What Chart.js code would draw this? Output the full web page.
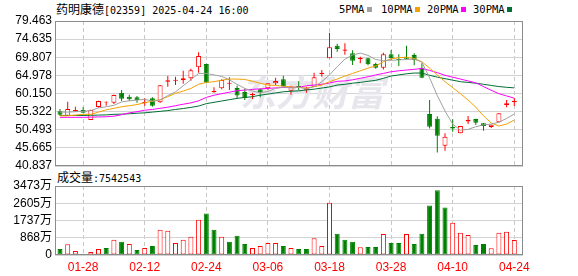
<!DOCTYPE html>
<html><head><meta charset="utf-8">
<script src="https://cdn.jsdelivr.net/npm/chart.js@4.4.0/dist/chart.umd.min.js"></script>
<style>
html,body{margin:0;padding:0;background:#fff;width:578px;height:276px;overflow:hidden;position:relative;}
.box{position:absolute;left:0;}
.t{position:absolute;white-space:nowrap;color:#000;}
.cjk{font-family:"Noto Sans CJK SC";font-size:12px;}
.mono{font-family:"DejaVu Sans Mono";font-size:10px;}
.sq{position:absolute;width:5px;height:5px;}
</style></head><body>
<div class="t" style="left:56px;top:0px;line-height:18px;"><span class="cjk">药明康德</span><span class="mono">[02359] 2025-04-24 16:00</span></div>
<div class="t mono" style="left:339px;top:0px;line-height:18px;font-size:10.5px;">5PMA</div><div class="sq" style="left:367px;top:7px;background:#a0a0a0"></div>
<div class="t mono" style="left:381px;top:0px;line-height:18px;font-size:10.5px;">10PMA</div><div class="sq" style="left:415px;top:7px;background:#f5a000"></div>
<div class="t mono" style="left:427px;top:0px;line-height:18px;font-size:10.5px;">20PMA</div><div class="sq" style="left:461px;top:7px;background:#ff00ff"></div>
<div class="t mono" style="left:473px;top:0px;line-height:18px;font-size:10.5px;">30PMA</div><div class="sq" style="left:507px;top:7px;background:#006f35"></div>
<div class="t" style="left:57px;top:168px;line-height:18px;"><span class="cjk">成交量</span><span class="mono">:7542543</span></div>
<div class="box" style="top:0;width:578px;height:170px;"><canvas id="pc" width="578" height="170"></canvas></div>
<div class="box" style="top:170px;width:578px;height:106px;"><canvas id="vc" width="578" height="106"></canvas></div>
<script>
const dates = ['01-23','01-24','01-27','01-28','02-03','02-04','02-05','02-06','02-07','02-10','02-11','02-12','02-13','02-14','02-17','02-18','02-19','02-20','02-21','02-24','02-25','02-26','02-27','02-28','03-03','03-04','03-05','03-06','03-07','03-10','03-11','03-12','03-13','03-14','03-17','03-18','03-19','03-20','03-21','03-24','03-25','03-26','03-27','03-28','03-31','04-01','04-02','04-03','04-07','04-08','04-09','04-10','04-11','04-14','04-15','04-16','04-17','04-22','04-23','04-24'];
const labelDates = ['01-28','02-12','02-24','03-06','03-18','03-28','04-10','04-24'];
const openP  = [55.40,54.24,55.50,55.75,53.09,56.55,57.75,57.70,60.36,59.30,59.14,57.55,58.87,57.80,63.30,63.56,63.66,64.20,67.13,68.01,60.45,61.53,62.76,61.60,60.55,59.67,61.27,61.53,62.87,63.93,60.90,62.15,61.17,61.96,65.35,69.53,72.88,71.55,70.86,69.30,69.53,68.01,67.02,70.59,69.35,69.95,70.40,67.02,54.69,53.40,46.24,51.30,49.55,52.70,53.36,52.21,51.23,52.48,57.09,57.80];
const highP  = [56.02,57.97,56.63,56.47,55.80,58.20,58.00,59.80,61.08,59.83,59.49,58.87,59.14,62.40,64.81,64.63,66.23,66.76,71.13,68.10,61.80,63.93,64.47,62.30,61.43,60.36,61.43,62.90,64.37,64.90,62.23,63.40,61.96,65.69,66.41,76.35,73.43,73.52,71.65,69.95,69.70,68.35,71.02,71.74,70.59,72.88,70.86,68.20,58.42,54.06,49.55,53.28,51.50,54.16,53.40,52.30,51.90,54.90,58.42,58.87];
const lowP   = [54.16,54.20,55.30,55.00,53.09,56.37,56.90,57.36,58.15,58.15,57.70,56.90,56.63,57.60,61.96,62.40,62.76,63.56,65.69,62.87,60.36,61.27,61.08,58.87,58.42,58.69,59.14,61.08,62.40,61.96,59.83,61.08,60.36,61.96,64.63,69.53,71.29,70.50,67.74,68.20,67.70,66.76,66.55,69.07,67.50,69.30,67.70,64.20,50.84,44.45,44.91,49.97,49.55,52.03,51.76,50.25,50.96,52.45,56.47,56.82];
const closeP = [54.50,56.02,55.75,55.04,55.75,58.15,57.95,59.75,58.77,58.60,58.42,57.89,56.90,62.33,63.66,63.82,64.20,66.33,70.14,63.03,60.80,63.75,63.03,59.65,58.95,60.02,60.47,62.87,63.48,62.15,61.96,61.62,61.53,64.47,65.69,72.46,72.00,71.90,68.89,69.70,67.93,67.02,70.59,69.53,69.10,69.40,69.07,64.37,51.31,48.91,48.60,50.85,51.49,53.15,52.37,51.49,51.85,54.88,57.54,58.24];
const ma5  = [55.2,55.2,55.3,55.4,55.6,56.3,56.6,57.0,57.9,58.2,58.4,58.6,58.1,58.4,59.6,60.6,62.2,63.8,65.5,65.5,65.1,64.7,63.8,62.6,61.5,60.8,60.3,60.7,61.5,61.9,61.6,61.8,61.4,62.0,63.3,65.1,67.3,69.3,70.4,70.9,70.3,69.2,68.9,69.0,69.1,69.2,69.3,68.5,64.3,59.6,55.5,52.0,50.4,50.6,51.3,51.8,52.0,52.5,53.5,54.7];
const ma10 = [54.2,54.2,54.4,54.6,54.6,55.2,55.8,56.2,56.6,56.9,57.2,57.7,58.1,58.5,59.3,60.2,60.8,61.5,62.6,63.1,63.3,63.7,64.0,64.0,63.9,63.4,62.9,62.4,62.3,62.1,61.9,61.8,61.6,61.95,62.4,63.3,64.0,64.8,65.5,66.2,66.9,67.5,68.6,69.4,69.7,69.8,69.5,68.6,66.9,65.1,63.3,61.7,60.1,58.4,56.5,54.2,52.3,51.5,52.0,53.1];
const ma20 = [53.8,53.8,53.8,53.8,53.85,53.9,53.95,54.1,54.5,55.0,55.3,55.7,55.9,56.2,56.5,56.9,57.3,57.65,58.2,59.1,59.7,60.1,60.5,60.9,61.05,61.25,61.4,61.5,61.65,61.75,61.8,61.8,62.2,62.4,62.6,62.95,63.4,63.5,63.8,64.2,64.6,65.1,65.5,65.95,66.2,66.4,66.6,66.8,66.3,65.7,65.0,64.5,64.0,63.5,63.0,62.0,61.0,60.1,59.5,58.9];
const ma30 = [54.3,54.3,54.3,54.3,54.35,54.4,54.45,54.6,54.65,54.75,54.9,55.0,55.2,55.4,55.6,55.9,56.15,56.45,56.8,57.45,57.8,58.15,58.5,58.85,59.1,59.3,59.7,60.0,60.3,60.6,60.75,60.85,61.1,61.3,61.6,61.9,62.4,62.6,62.9,63.1,63.4,63.65,64.2,64.8,65.1,65.4,65.6,65.6,65.0,64.5,64.1,63.7,63.3,63.1,62.9,62.6,62.3,62.0,61.8,61.65];
const volume = [305,544,203,60,153,305,356,763,661,559,254,356,458,1271,1220,610,763,915,1780,2085,1271,915,661,966,559,356,458,610,610,458,356,305,305,849,458,2629,1068,763,661,392,407,407,1052,610,610,1052,559,1068,2492,3254,2390,1625,1119,1010,509,559,345,1125,1170,754.25];
const volUp  = [0,1,1,0,1,1,0,1,0,1,0,1,0,1,1,1,1,1,1,0,0,1,0,0,0,1,1,1,1,0,1,0,0,1,1,1,0,0,0,1,0,0,1,0,0,1,0,0,0,0,0,1,1,1,0,0,1,1,1,1];
const priceTicks = [40.837,45.665,50.493,55.322,60.150,64.978,69.807,74.635,79.463];
const volTicks = [0,868,1737,2605,3473];

const RED='#ff0000', GREEN='#008000', GRID='#d3d3d3', FRAME='#8c8c8c', DASHC='#c8c8c8';
const labelIdx = labelDates.map(d => dates.indexOf(d));
const XMIN=-0.65, XMAX=60.13;

const framePlugin = {id:'frame', afterDraw(chart){const a=chart.chartArea,c=chart.ctx;c.save();c.strokeStyle=FRAME;c.lineWidth=1;c.strokeRect(a.left+0.5,a.top+0.5,a.right-a.left-1,a.bottom-a.top-1);c.restore();}};
const wmPlugin = {id:'wm', beforeDatasetsDraw(chart){const c=chart.ctx;c.save();c.fillStyle='#e6e6ec';c.font='italic bold 36px "Noto Sans CJK SC"';c.textBaseline='middle';c.fillText('东方财富',240,92);c.restore();}};

function xScale(showLabels){
  return {type:'linear',min:XMIN,max:XMAX,offset:false,
    afterBuildTicks(s){s.ticks=labelIdx.map(v=>({value:v}));},
    afterFit(s){s.height=showLabels?21:0;},
    grid:{color:DASHC,drawTicks:false,lineWidth:1,offset:false},
    border:{display:false,dash:[4,3]},
    ticks:{display:showLabels,autoSkip:false,maxRotation:0,padding:5,color:RED,font:{family:'Liberation Sans',size:12},callback:v=>dates[v]}};
}

const upArr = closeP.map((c,i)=>c>=openP[i]);
new Chart(document.getElementById('pc'),{
  type:'bar',
  data:{datasets:[
    {type:'line',data:ma5.map((v,i)=>({x:i,y:v})),borderColor:'#a0a0a0',borderWidth:1,pointRadius:0,tension:0,order:0},
    {type:'line',data:ma10.map((v,i)=>({x:i,y:v})),borderColor:'#f5a000',borderWidth:1,pointRadius:0,tension:0,order:0},
    {type:'line',data:ma20.map((v,i)=>({x:i,y:v})),borderColor:'#ff00ff',borderWidth:1,pointRadius:0,tension:0,order:0},
    {type:'line',data:ma30.map((v,i)=>({x:i,y:v})),borderColor:'#006f35',borderWidth:1,pointRadius:0,tension:0,order:0},
    {data:openP.map((o,i)=>({x:i,y:[o,closeP[i]]})),backgroundColor:upArr.map(u=>u?'#ffffff':GREEN),borderColor:upArr.map(u=>u?RED:GREEN),borderWidth:1,borderSkipped:false,barThickness:5,grouped:false,order:1,inflateAmount:0},
    {data:lowP.map((l,i)=>({x:i,y:[l,highP[i]]})),backgroundColor:upArr.map(u=>u?RED:GREEN),borderWidth:0,barThickness:1,grouped:false,order:2,inflateAmount:0}
  ]},
  options:{responsive:false,animation:false,events:[],
    layout:{padding:{left:0,right:55,top:21,bottom:4}},
    plugins:{legend:{display:false},tooltip:{enabled:false}},
    scales:{
      x:xScale(false),
      y:{min:priceTicks[0],max:priceTicks[priceTicks.length-1],
        afterBuildTicks(s){s.ticks=priceTicks.map(v=>({value:v}));},
        afterFit(s){s.width=55;s.paddingTop=0;s.paddingBottom=0;},
        grid:{color:GRID,drawTicks:false},border:{display:false},
        ticks:{padding:3,autoSkip:false,color:'#000',font:{family:'Liberation Sans',size:12},callback:v=>v.toFixed(3)}}
    }},
  plugins:[framePlugin,wmPlugin]
});

new Chart(document.getElementById('vc'),{
  type:'bar',
  data:{datasets:[
    {data:volume.map((v,i)=>({x:i,y:v})),backgroundColor:volUp.map(u=>u?'#ffffff':GREEN),borderColor:volUp.map(u=>u?RED:GREEN),borderWidth:1,borderSkipped:false,barThickness:5,inflateAmount:0}
  ]},
  options:{responsive:false,animation:false,events:[],
    layout:{padding:{left:0,right:55,top:16,bottom:0}},
    plugins:{legend:{display:false},tooltip:{enabled:false}},
    scales:{
      x:xScale(true),
      y:{min:0,max:volTicks[volTicks.length-1],
        afterBuildTicks(s){s.ticks=volTicks.map(v=>({value:v}));},
        afterFit(s){s.width=55;s.paddingTop=0;s.paddingBottom=0;},
        grid:{color:GRID,drawTicks:false},border:{display:false},
        ticks:{padding:3,autoSkip:false,color:'#000',font:{family:'Liberation Sans, Noto Sans CJK SC',size:12},callback:v=>v===0?'0':v+'万'}}
    }},
  plugins:[framePlugin]
});
</script>
</body></html>
